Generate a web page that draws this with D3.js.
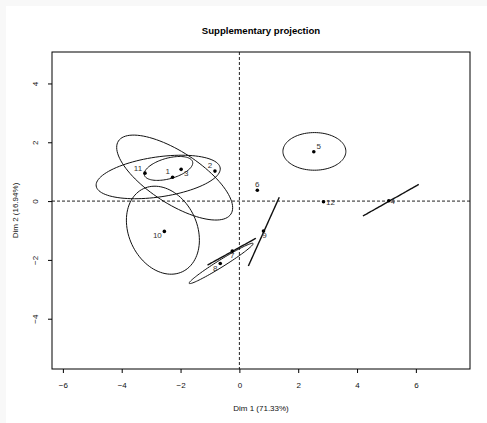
<!DOCTYPE html>
<html>
<head>
<meta charset="utf-8">
<script src="https://cdn.jsdelivr.net/npm/d3@7"></script>
<style>
  body { margin: 0; background: #fff; }
  text { font-family: "Liberation Sans", Arial, sans-serif; }
</style>
</head>
<body>
<script>
// individuals (coords)
const labels = ["1","2","3","4","5","6","7","8","9","10","11","12"];
const dim1 = [-2.27, -0.83, -1.98, 5.08, 2.53, 0.61, -0.24, -0.65, 0.82, -2.55, -3.21, 2.86];
const dim2 = [0.81, 1.02, 1.08, 0.01, 1.68, 0.37, -1.70, -2.12, -1.02, -1.03, 0.95, -0.02];

// confidence ellipses: centre, half axes, angle (deg, data space)
const ellCx = [-2.20, -2.76, -2.41, -2.60, 2.55, -0.62, -0.26, 0.83, 5.15];
const ellCy = [0.80, 0.82, 1.11, -0.99, 1.69, -2.12, -1.72, -1.04, 0.03];
const ellA = [2.28, 2.13, 0.85, 1.56, 1.07, 1.28, 0.94, 1.28, 1.09];
const ellB = [0.88, 0.68, 0.35, 1.16, 0.64, 0.12, 0, 0, 0];
const ellAng = [-33, 8.3, 15.5, -65, 0, 32, 29, 65.8, 29.5];

const xTicks = [-6, -4, -2, 0, 2, 4, 6];
const yTicks = [-4, -2, 0, 2, 4];

// label offsets in px (placement only)
const labDx = [-5, -5, 5, 4, 5, 0, 0, -5, 1, -7, -7, 7];
const labDy = [-5, -5, 5, 1, -5, -5, 5, 5, 5, 5, -4, 1];

const W = 487, H = 423;
const mL = 52, mR = 470, mT = 52, mB = 369;

const svg = d3.select("body").append("svg").attr("width", W).attr("height", H);

svg.append("rect").attr("x", 0).attr("y", 0).attr("width", W).attr("height", H).attr("fill", "#f8f8f8");
svg.append("rect").attr("x", 6).attr("y", 6).attr("width", W - 6).attr("height", H - 6).attr("fill", "#fff");

const x = d3.scaleLinear().domain([-6.37, 7.84]).range([mL, mR]);
const y = d3.scaleLinear().domain([-5.71, 5.07]).range([mB, mT]);

// title
svg.append("text").attr("x", (mL + mR) / 2).attr("y", 34)
  .attr("text-anchor", "middle").attr("font-size", 9.6).attr("font-weight", "bold")
  .text("Supplementary projection");

// axes
const fmt = d => d < 0 ? "\u2212" + Math.abs(d) : d;
const xAxis = svg.append("g").attr("transform", `translate(0,${mB})`)
  .call(d3.axisBottom(x).tickValues(xTicks).tickSize(4).tickPadding(9).tickFormat(fmt));
xAxis.select(".domain").remove();
xAxis.selectAll("text").attr("font-size", 8).attr("fill", "#111").attr("font-family", "Liberation Sans, Arial, sans-serif");

const yAxis = svg.append("g").attr("transform", `translate(${mL},0)`)
  .call(d3.axisLeft(y).tickValues(yTicks).tickSize(4).tickFormat(fmt));
yAxis.select(".domain").remove();
yAxis.selectAll("text")
  .attr("font-size", 8).attr("fill", "#111").attr("font-family", "Liberation Sans, Arial, sans-serif")
  .attr("text-anchor", "middle").attr("dy", 0).attr("x", 0)
  .attr("transform", "translate(-16,0) rotate(-90)")
  .attr("dominant-baseline", "middle");

svg.append("text").attr("x", (mL + mR) / 2).attr("y", 411)
  .attr("text-anchor", "middle").attr("font-size", 8).attr("fill", "#111")
  .text("Dim 1 (71.33%)");
svg.append("text").attr("transform", `translate(18,${(mT + mB) / 2}) rotate(-90)`)
  .attr("text-anchor", "middle").attr("font-size", 8).attr("fill", "#111")
  .text("Dim 2 (16.94%)");

// reference lines
svg.append("line").attr("x1", mL).attr("x2", mR).attr("y1", y(0)).attr("y2", y(0))
  .attr("stroke", "#222").attr("stroke-dasharray", "3,2");
svg.append("line").attr("x1", x(0)).attr("x2", x(0)).attr("y1", mT).attr("y2", mB)
  .attr("stroke", "#222").attr("stroke-dasharray", "3,2");

// ellipses
const ellLine = d3.line().x(d => x(d[0])).y(d => y(d[1]));
ellCx.forEach((cx, i) => {
  const t = ellAng[i] * Math.PI / 180;
  const pts = d3.range(0, 101).map(k => {
    const u = k / 100 * 2 * Math.PI;
    const ex = ellA[i] * Math.cos(u), ey = ellB[i] * Math.sin(u);
    return [cx + ex * Math.cos(t) - ey * Math.sin(t), ellCy[i] + ex * Math.sin(t) + ey * Math.cos(t)];
  });
  svg.append("path").attr("d", ellLine(pts)).attr("fill", "none")
    .attr("stroke", "#111").attr("stroke-width", ellB[i] === 0 ? 1.4 : 1);
});

// points & labels
svg.selectAll("circle.pt").data(labels).enter().append("circle")
  .attr("cx", (d, i) => x(dim1[i])).attr("cy", (d, i) => y(dim2[i])).attr("r", 1.8).attr("fill", "#000");
svg.selectAll("text.lab").data(labels).enter().append("text")
  .attr("x", (d, i) => x(dim1[i]) + labDx[i]).attr("y", (d, i) => y(dim2[i]) + labDy[i])
  .attr("text-anchor", "middle").attr("dominant-baseline", "middle")
  .attr("font-size", 8).attr("fill", "#333").text(d => d);

// box
svg.append("rect").attr("x", mL).attr("y", mT).attr("width", mR - mL).attr("height", mB - mT)
  .attr("fill", "none").attr("stroke", "#000").attr("stroke-width", 1);
</script>
</body>
</html>
